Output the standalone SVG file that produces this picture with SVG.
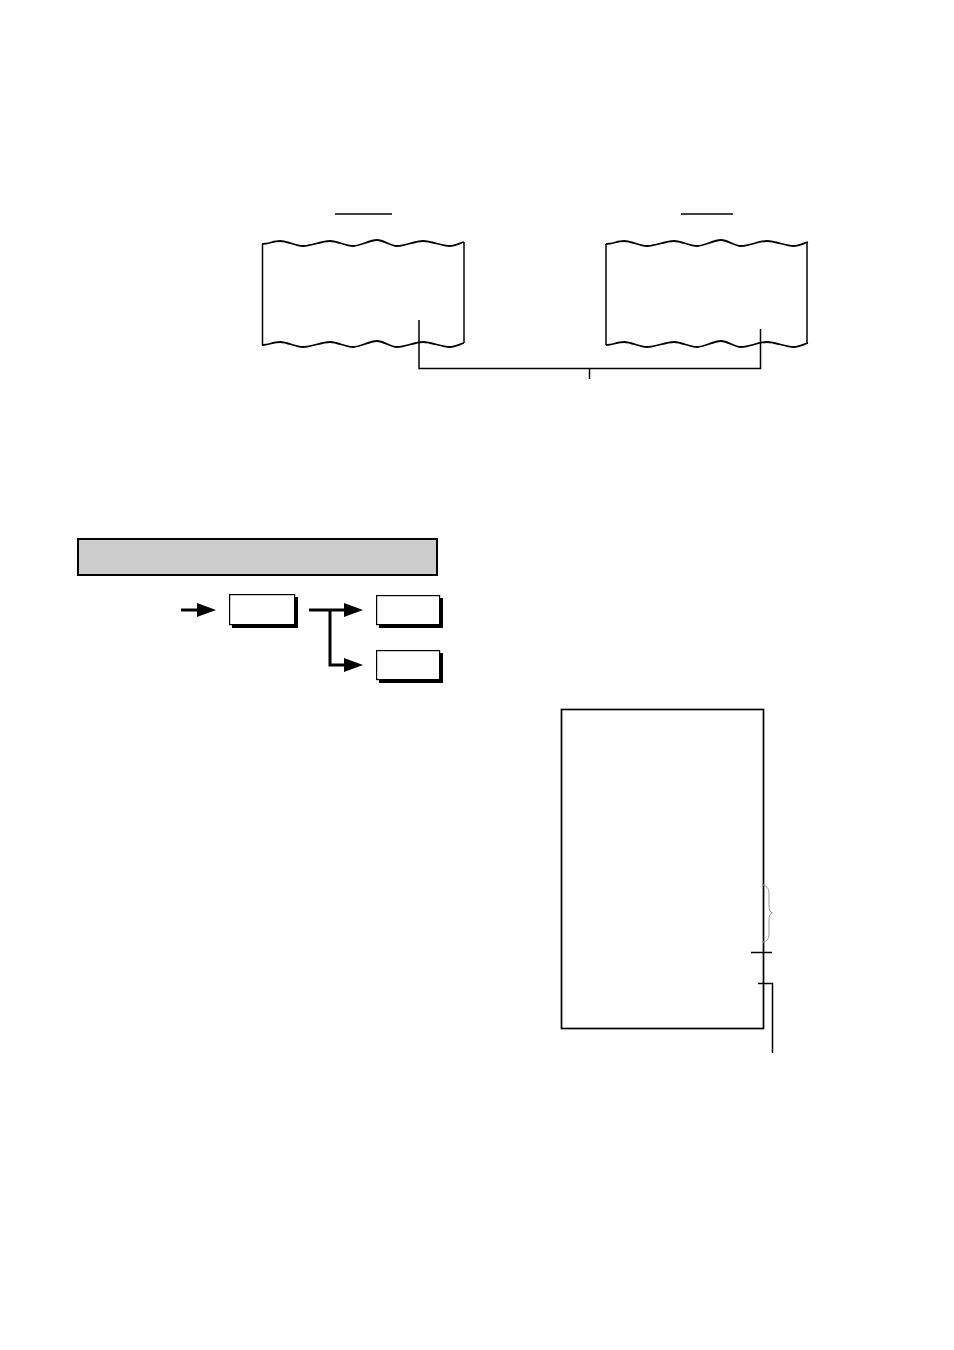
<svg xmlns="http://www.w3.org/2000/svg" width="954" height="1350" viewBox="0 0 954 1350">
<style>
.ln{fill:none;stroke:#000;stroke-width:1.5}
.wv{fill:none;stroke:#000;stroke-width:1.8}
.arr{fill:none;stroke:#000;stroke-width:3}
.box{fill:#fff;stroke:#000;stroke-width:1.2}
.sh{fill:#000}
</style>
<defs>
<path id="wave" d="M0,1 C6,1 12,-2 18,-2 C26,-2 33,3 41,3 C50,3 59,-2 68,-2 C76,-2 83,3 91,3 C99,3 107,-3 115,-3 C122,-3 128,3 135,3 C144,3 152,-2 161,-2 C170,-2 179,3 188,3 C193,3 198,0 202,-1"/>
<marker id="ah" markerUnits="userSpaceOnUse" markerWidth="19" markerHeight="14" refX="0" refY="7" orient="auto" overflow="visible">
<path d="M0,0 L19,7 L0,14 z" fill="#000"/>
</marker>
</defs>
<rect width="954" height="1350" fill="#fff"/>

<g id="paper-left">
<line class="ln" x1="335" y1="214" x2="392" y2="214"/>
<use href="#wave" class="wv" transform="translate(262,243)"/>
<use href="#wave" class="wv" transform="translate(262,344)"/>
<line class="ln" x1="262.5" y1="244" x2="262.5" y2="345"/>
<line class="ln" x1="464" y1="242" x2="464" y2="343"/>
</g>

<g id="paper-right">
<line class="ln" x1="681" y1="214" x2="733" y2="214"/>
<use href="#wave" class="wv" transform="translate(606,243)"/>
<use href="#wave" class="wv" transform="translate(606,344)"/>
<line class="ln" x1="606" y1="244" x2="606" y2="345"/>
<line class="ln" x1="807" y1="242" x2="807" y2="343"/>
</g>

<g id="title-bar">
<rect x="78" y="539" width="359" height="36" fill="#cccccc" stroke="#000" stroke-width="2"/>
</g>

<g id="key1">
<rect class="sh" x="232" y="597" width="66" height="31"/>
<rect class="box" x="229.6" y="594.6" width="65" height="30"/>
</g>
<g id="key2">
<rect class="sh" x="379" y="598" width="64" height="30"/>
<rect class="box" x="376.6" y="595.6" width="63" height="29"/>
</g>
<g id="key3">
<rect class="sh" x="379" y="653" width="64" height="30"/>
<rect class="box" x="376.6" y="650.6" width="63" height="29"/>
</g>

<g id="receipt">
<rect x="561.5" y="709.5" width="202" height="319" fill="none" stroke="#000" stroke-width="1.7"/>
<path d="M763,885 C768,886 769,890 769,895 L769,906 C769,910 770,912 772.5,913 C770,914 769,916 769,920 L769,934 C769,939 767,941 763,942" fill="none" stroke="#999" stroke-width="1"/>
</g>

<g id="connectors">
<polyline class="ln" points="419,320 419,368.5 760.5,368.5 760.5,329"/>
<line class="ln" x1="589.5" y1="368" x2="589.5" y2="379"/>
<line class="arr" x1="181" y1="610" x2="197" y2="610" marker-end="url(#ah)"/>
<line class="arr" x1="309" y1="610" x2="344" y2="610" marker-end="url(#ah)"/>
<polyline class="arr" points="330,610 330,665 344,665" marker-end="url(#ah)"/>
<line class="ln" x1="751" y1="952.5" x2="772" y2="952.5"/>
<polyline class="ln" points="758,983.5 772.5,983.5 772.5,1053"/>
</g>
</svg>
